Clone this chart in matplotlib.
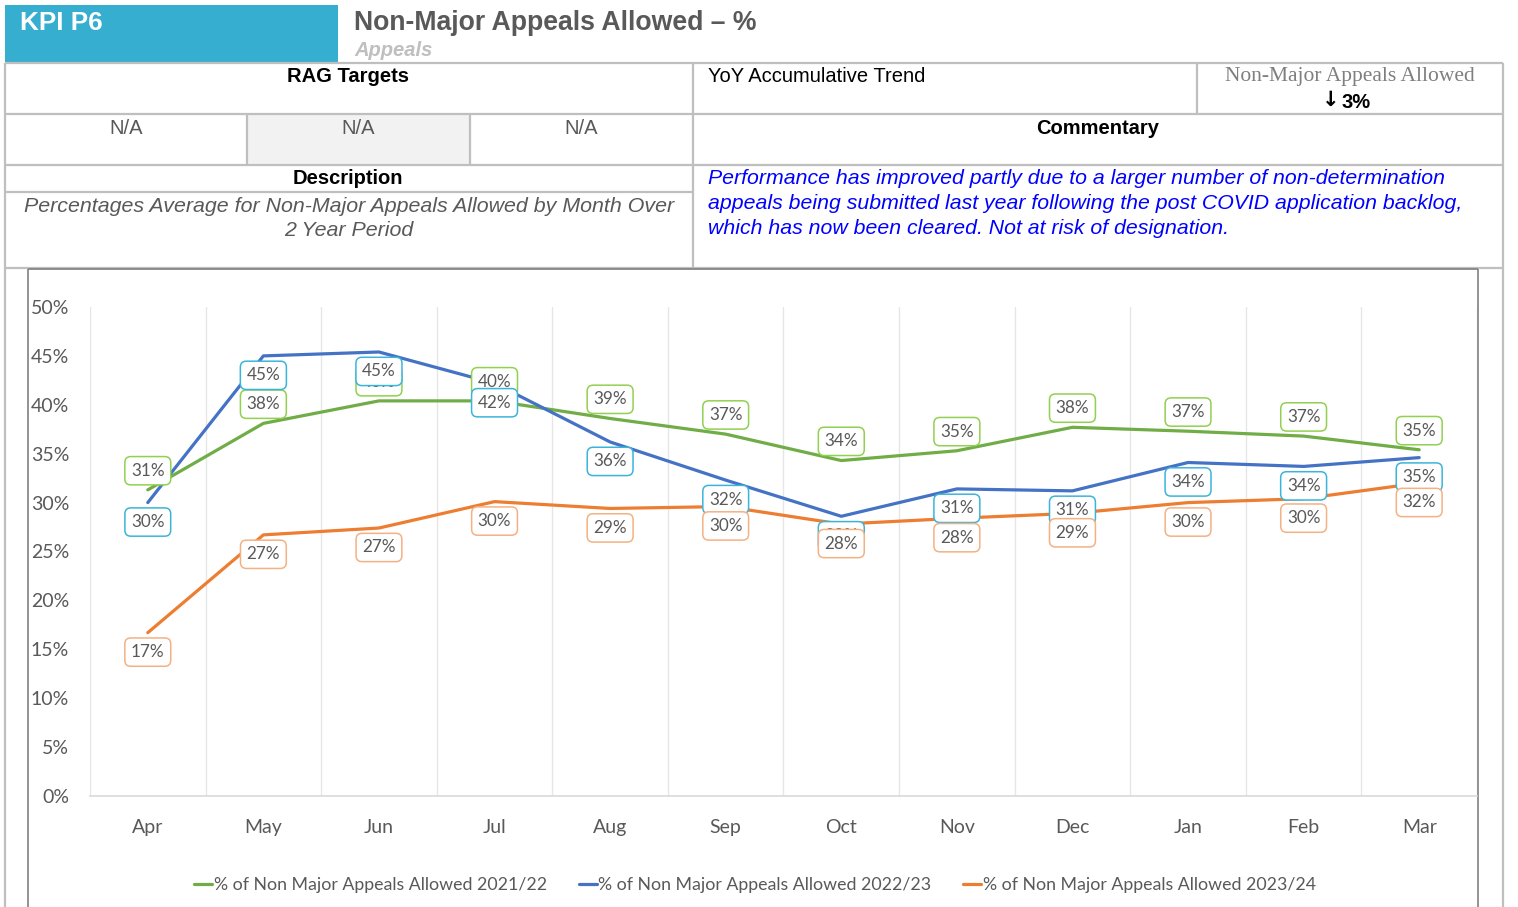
import matplotlib
matplotlib.use("Agg")
import matplotlib.pyplot as plt
from matplotlib.patches import Rectangle
from matplotlib.ticker import FuncFormatter
import numpy as np

# DATA ##########################################################
months = ["Apr", "May", "Jun", "Jul", "Aug", "Sep", "Oct", "Nov", "Dec", "Jan", "Feb", "Mar"]
allowed_2122 = [31.3, 38.1, 40.4, 40.4, 38.6, 37.0, 34.3, 35.3, 37.7, 37.3, 36.8, 35.4]
allowed_2223 = [30.0, 45.0, 45.4, 42.2, 36.2, 32.3, 28.6, 31.4, 31.2, 34.1, 33.7, 34.6]
allowed_2324 = [16.7, 26.7, 27.4, 30.1, 29.4, 29.6, 27.8, 28.4, 28.9, 30.0, 30.4, 32.0]
series_names = ["% of Non Major Appeals Allowed 2021/22",
                "% of Non Major Appeals Allowed 2022/23",
                "% of Non Major Appeals Allowed 2023/24"]
rag_targets = ["N/A", "N/A", "N/A"]
yoy_value = "3%"
description_lines = ["Percentages Average for Non-Major Appeals Allowed by Month Over",
                     "2 Year Period"]
commentary_lines = ["Performance has improved partly due to a larger number of non-determination",
                    "appeals being submitted last year following the post COVID application backlog,",
                    "which has now been cleared. Not at risk of designation."]

# STYLE ##########################################################
W, H = 1518, 907
grey_txt = "#595959"
border = "#BFBFBF"
line_cols = ["#70AD47", "#4472C4", "#ED7D31"]
box_cols = ["#92D050", "#3CB4DA", "#F4B183"]
arial = ["Liberation Sans", "DejaVu Sans"]

fig = plt.figure(figsize=(W / 100, H / 100), dpi=100)

# page layout in pixel coords
bg = fig.add_axes([0, 0, 1, 1], zorder=0)
bg.set_xlim(0, W)
bg.set_ylim(H, 0)
bg.axis("off")

def hline(y, x0, x1, c=border, lw=1.6):
	bg.plot([x0, x1], [y, y], color=c, lw=lw, solid_capstyle="butt")

def vline(x, y0, y1, c=border, lw=1.6):
	bg.plot([x, x], [y0, y1], color=c, lw=lw, solid_capstyle="butt")

# header
bg.add_patch(Rectangle((5, 5), 333, 57, color="#35AED0", lw=0))
bg.add_patch(Rectangle((247, 114), 223, 51, color="#F2F2F2", lw=0))
bg.text(20, 23, "KPI P6", color="white", fontsize=18.8, fontweight="bold", family=arial, va="center")
bg.text(354, 23, "Non-Major Appeals Allowed \u2013 %", color=grey_txt, fontsize=19.2,
	fontweight="bold", family=arial, va="center")
bg.text(354, 50, "Appeals", color="#BFBFBF", fontsize=14.5, fontweight="bold", style="italic",
	family=arial, va="center")

# table grid
hline(63, 5, 1503)
hline(114, 5, 1503)
hline(165, 5, 1503)
hline(192, 5, 693)
hline(268, 5, 1503)
vline(5, 63, H)
vline(1503, 63, H)
vline(693, 63, 268)
vline(1197, 63, 114)
vline(247, 114, 165)
vline(470, 114, 165)

# table text
bg.text(348, 76, "RAG Targets", fontsize=14.5, fontweight="bold", family=arial, ha="center", va="center")
bg.text(708, 76, "YoY Accumulative Trend", fontsize=14.5, family=arial, va="center")
bg.text(1350, 77, "Non-Major Appeals Allowed", fontsize=15.5, color="#7F7F7F",
	family=["Liberation Serif", "DejaVu Serif"], ha="center", va="center")
bg.text(1339, 100, "\u2193", fontsize=15, fontweight="bold", family="DejaVu Sans", ha="right", va="center")
bg.text(1342, 102, yoy_value, fontsize=14.5, fontweight="bold", family=arial, ha="left", va="center")
for x, t in zip([126, 358, 581], rag_targets):
	bg.text(x, 128, t, fontsize=14.5, color=grey_txt, family=arial, ha="center", va="center")
bg.text(1098, 128, "Commentary", fontsize=14.5, fontweight="bold", family=arial, ha="center", va="center")
bg.text(348, 179, "Description", fontsize=14.5, fontweight="bold", family=arial, ha="center", va="center")
for i, t in enumerate(description_lines):
	bg.text(349, 207 + 24 * i, t, fontsize=15.4, style="italic", color=grey_txt, family=arial,
		ha="center", va="center")
for i, t in enumerate(commentary_lines):
	bg.text(708, 179 + 24.5 * i, t, fontsize=15.3, style="italic", color="#0000FF", family=arial,
		va="center")

# chart frame
hline(269, 28, 1478, c="#808080", lw=1.2)
vline(28, 269, H, c="#808080", lw=1.2)
vline(1478, 269, H, c="#808080", lw=1.2)

# CHART ##########################################################
ax = fig.add_axes([90 / W, 1 - 796 / H, 1387 / W, 489 / H], zorder=1)
ax.patch.set_visible(False)
x = np.arange(len(months))
all_series = [allowed_2122, allowed_2223, allowed_2324]
offsets = [13.8, -14.0, -14.0]
for k, vals in enumerate(all_series):
	ax.plot(x, vals, color=line_cols[k], lw=2.3, label=series_names[k], zorder=3,
		solid_capstyle="round", solid_joinstyle="round")
for k, vals in enumerate(all_series):
	for i, v in enumerate(vals):
		ax.annotate("%d%%" % round(v), (i, v), xytext=(0, offsets[k]), textcoords="offset points",
			ha="center", va="center", fontsize=12.3, color=grey_txt, family="Lato",
			bbox=dict(boxstyle="round,pad=0.36,rounding_size=0.35", fc="white", ec=box_cols[k], lw=1.1),
			zorder=5 + k)

ax.set_xlim(-0.5, 11.5)
ax.set_ylim(0, 50)
ax.set_yticks(range(0, 55, 5))
ax.yaxis.set_major_formatter(FuncFormatter(lambda v, p: "%d%%" % v))
ax.set_xticks(x)
ax.set_xticklabels(months)
ax.set_xticks(np.arange(-0.5, 12, 1), minor=True)
ax.tick_params(axis="y", length=0, pad=15, labelsize=14, labelcolor=grey_txt)
ax.tick_params(axis="x", which="major", length=0, pad=16.5, labelsize=14, labelcolor=grey_txt)
ax.tick_params(axis="x", which="minor", length=0)
for lab in ax.get_xticklabels() + ax.get_yticklabels():
	lab.set_family("Lato")
ax.grid(which="minor", axis="x", color="#E6E6E6", lw=1)
ax.grid(which="major", axis="both", visible=False)
for s in ["top", "right", "left"]:
	ax.spines[s].set_visible(False)
ax.spines["bottom"].set_color("#D9D9D9")
ax.spines["bottom"].set_linewidth(1.2)

fig.legend(loc="center", bbox_to_anchor=(755 / W, 1 - 885 / H), ncol=3, frameon=False,
	handlelength=1.0, handletextpad=0.1, columnspacing=1.8,
	prop={"family": "Lato", "size": 12.8}, labelcolor=grey_txt)

fig.savefig("out.png", dpi=100)
